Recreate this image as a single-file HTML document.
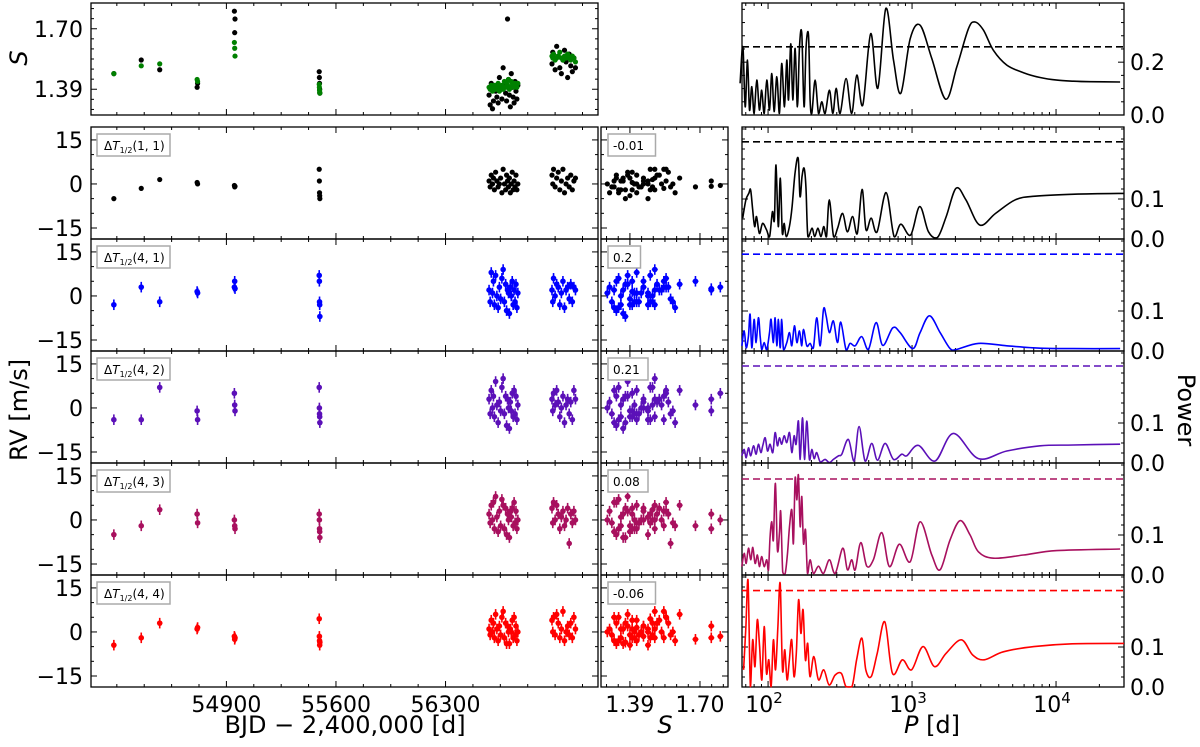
<!DOCTYPE html>
<html><head><meta charset="utf-8"><style>
html,body{margin:0;padding:0;background:#fff;}
svg{display:block;font-family:"DejaVu Sans","Liberation Sans",sans-serif;}
</style></head><body>
<svg id="fig" width="1200" height="747" viewBox="0 0 1200 747" xmlns="http://www.w3.org/2000/svg">
<text x="345" y="733" font-size="24" text-anchor="middle">BJD − 2,400,000 [d]</text>
<text x="665" y="733" font-size="24" text-anchor="middle" font-style="italic">S</text>
<text x="932" y="733" font-size="24" text-anchor="middle"><tspan font-style="italic">P</tspan> [d]</text>
<text transform="translate(27,410) rotate(-90)" font-size="24" text-anchor="middle">RV [m/s]</text>
<text transform="translate(27,58) rotate(-90)" font-size="24" text-anchor="middle" font-style="italic">S</text>
<text transform="translate(1178,410) rotate(90)" font-size="24" text-anchor="middle">Power</text>
</svg>
<script>
// ---------- data ----------
const bjd = [54181,54356,54474,54713,54716,54951,54953,54955,55493,55494,55495,55496,55497,
56578,56585,56592,56600,56606,56612,56620,56628,56636,56644,56652,56660,56668,56676,56684,56690,56696,56702,56708,56714,56720,56726,56732,56738,56744,56750,56756,56762,
56980,56985,56990,57000,57010,57020,57030,57040,57050,57060,57070,57080,57090,57100,57110,57120,57130];
const sIndex = [1.47,1.54,1.49,1.40,1.42,1.79,1.68,1.75,1.48,1.45,1.42,1.39,1.37,
1.36,1.31,1.42,1.29,1.33,1.40,1.38,1.35,1.32,1.45,1.39,1.34,1.50,1.41,1.37,1.33,1.75,1.44,1.36,1.30,1.47,1.40,1.35,1.32,1.43,1.38,1.34,1.41,
1.52,1.58,1.55,1.49,1.61,1.56,1.50,1.47,1.54,1.59,1.53,1.45,1.57,1.51,1.48,1.55,1.50];
const sIndexGreen = [1.47,1.51,1.52,1.44,1.43,1.63,1.60,1.56,1.415,1.40,1.385,1.375,1.37,
1.40,1.39,1.41,1.38,1.40,1.41,1.39,1.40,1.42,1.38,1.40,1.41,1.39,1.43,1.40,1.42,1.41,1.44,1.39,1.40,1.43,1.42,1.41,1.40,1.42,1.41,1.40,1.42,
1.56,1.55,1.57,1.54,1.55,1.56,1.58,1.55,1.54,1.56,1.55,1.57,1.55,1.54,1.56,1.55,1.53];
const rv11 = [-5,-1.5,1.5,0.5,0,-0.5,-1,-0.8,5,1,-3,-4,-5,
1,-1,3,0,2,-2,4,1,-1,0,2,-3,5,0,-2,3,1,-1,2,-3,0,4,-2,1,-1,3,-2,0,
3,0,5,-1,2,4,-2,1,5,-3,0,2,-1,3,-2,1,2];
const rv41 = [-3,3,-2,1.5,1,3,5,2.5,7,5,-2,-3,-7,
2,-2,8,1,5,-3,7,0,-4,3,-1,6,9,-2,4,-5,2,1,-6,3,0,5,-3,2,-2,4,-4,1,
2,-2,6,0,4,3,-3,1,5,-4,2,3,-1,4,-2,3,2];
const rv42 = [-4,-4,7,-1,-4,5,1,-1,7,0,-2,-3,-5,
3,-2,6,0,4,-3,9,1,-5,2,-1,7,10,-2,4,-6,3,0,-7,2,-1,5,-3,6,-2,4,-4,1,
3,-1,5,1,6,2,-3,0,4,-5,1,3,-2,2,-4,6,3];
const rv43 = [-5,-2,3.5,2,-1,0,-2,-3,2,0,-3,-4,-6,
2,-1,5,0,6,-3,8,1,-4,3,-2,7,5,-3,4,-5,2,0,-6,3,1,4,-2,6,-1,3,-3,0,
4,-1,6,0,5,2,-3,1,3,-2,0,4,-8,2,-1,3,0];
const rv44 = [-4.5,-2,3,1,1.5,-1.5,-2.5,-2,4.5,-1.5,-3,-4.5,-3.5,
1,-1,4,0,3,-2,6,1,-3,2,-1,5,7,-2,3,-4,2,0,-4,1,0,4,-2,5,-1,2,-3,0,
4,0,5,-1,6,3,-2,1,7,-3,0,2,-1,3,-2,5,1];
const rvErr = 1.8;
const corrValues = ["-0.01","0.2","0.21","0.08","-0.06"];
const rowLabels = ["1, 1","4, 1","4, 2","4, 3","4, 4"];
const fapLevels = [0.243,0.242,0.2425,0.240,0.241];
const fapTop = 0.258;

const logP_S = [1.806,1.825,1.841,1.857,1.871,1.887,1.903,1.922,1.940,1.956,1.973,1.991,2.010,2.026,2.042,2.061,2.079,2.095,2.114,2.130,2.142,2.158,2.172,2.188,2.204,2.218,2.234,2.250,2.264,2.281,2.292,2.304,2.327,2.350,2.373,2.396,2.426,2.450,2.473,2.500,2.542,2.581,2.616,2.658,2.713,2.762,2.818,2.871,2.922,2.987,3.056,3.137,3.234,3.311,3.392,3.438,3.496,3.565,3.658,3.774,3.889,4.005,4.121,4.237,4.445];
const pow_S = [.120,.258,.031,.208,.019,.107,.006,.132,.019,.094,.006,.132,.019,.157,.013,.145,.006,.195,.031,.208,.057,.270,.057,.252,.031,.258,.308,.031,.258,.302,.057,.006,.132,.006,.050,.006,.094,.006,.101,.006,.138,.006,.151,.038,.308,.101,.403,.208,.082,.289,.340,.214,.060,.182,.327,.352,.321,.245,.189,.160,.142,.132,.128,.126,.125];
const logP_11 = [1.824,1.846,1.866,1.879,1.893,1.907,1.920,1.940,1.962,1.989,2.011,2.030,2.044,2.055,2.071,2.085,2.099,2.112,2.126,2.148,2.167,2.187,2.209,2.222,2.236,2.250,2.263,2.277,2.305,2.324,2.346,2.368,2.387,2.406,2.425,2.455,2.483,2.518,2.551,2.587,2.620,2.653,2.680,2.716,2.757,2.820,2.875,2.922,2.990,3.053,3.114,3.177,3.237,3.306,3.374,3.470,3.580,3.717,3.854,4.129,4.471];
const pow_11 = [.052,.098,.114,.123,.073,.031,.056,.014,.039,.023,.006,.068,.048,.185,.031,.152,.014,.039,.006,.031,.081,.164,.202,.106,.156,.177,.131,.006,.027,.006,.027,.006,.031,.006,.098,.006,.027,.064,.018,.056,.014,.124,.023,.052,.018,.116,.006,.037,.010,.081,.018,.004,.056,.127,.098,.035,.064,.098,.107,.112,.114];
const logP_41 = [1.818,1.834,1.848,1.864,1.875,1.887,1.903,1.917,1.933,1.945,1.956,1.973,1.991,2.010,2.021,2.037,2.049,2.061,2.072,2.084,2.095,2.107,2.130,2.149,2.165,2.183,2.200,2.218,2.234,2.246,2.269,2.292,2.315,2.338,2.362,2.385,2.403,2.426,2.454,2.482,2.505,2.542,2.570,2.605,2.651,2.697,2.750,2.797,2.866,2.917,3.005,3.056,3.121,3.195,3.264,3.311,3.461,3.658,3.889,4.121,4.445];
const pow_41 = [.013,.050,.008,.038,.092,.008,.079,.021,.083,.038,.004,.021,.004,.046,.079,.021,.083,.013,.079,.008,.079,.004,.021,.046,.013,.063,.021,.050,.013,.054,.013,.019,.008,.083,.013,.104,.088,.046,.075,.021,.072,.003,.019,.013,.036,.004,.071,.014,.058,.046,.006,.046,.088,.046,.006,.004,.019,.013,.007,.006,.006];
const logP_42 = [1.818,1.834,1.848,1.864,1.880,1.899,1.917,1.933,1.950,1.963,1.980,1.996,2.014,2.033,2.049,2.065,2.079,2.095,2.112,2.130,2.149,2.165,2.181,2.195,2.211,2.223,2.239,2.253,2.269,2.287,2.304,2.320,2.338,2.362,2.396,2.426,2.454,2.489,2.512,2.558,2.598,2.632,2.674,2.720,2.760,2.813,2.871,2.929,2.963,3.044,3.160,3.287,3.461,3.658,3.889,4.121,4.445];
const pow_42 = [.018,.034,.013,.038,.018,.043,.022,.047,.026,.043,.063,.030,.047,.026,.076,.043,.063,.047,.068,.051,.076,.026,.068,.047,.105,.009,.113,.009,.105,.009,.034,.011,.026,.003,.009,.001,.009,.018,.022,.059,.005,.091,.005,.049,.007,.049,.009,.022,.018,.044,.005,.074,.011,.030,.043,.045,.047];
const logP_43 = [1.818,1.834,1.848,1.864,1.880,1.894,1.910,1.926,1.940,1.956,1.973,1.991,2.003,2.014,2.026,2.037,2.051,2.065,2.079,2.088,2.102,2.119,2.135,2.149,2.165,2.176,2.188,2.200,2.211,2.223,2.234,2.246,2.260,2.274,2.292,2.315,2.350,2.385,2.426,2.466,2.519,2.551,2.581,2.605,2.644,2.686,2.732,2.790,2.843,2.912,2.987,3.056,3.137,3.195,3.264,3.334,3.403,3.461,3.565,3.774,4.005,4.445];
const pow_43 = [.021,.054,.029,.067,.038,.069,.029,.050,.021,.046,.021,.038,.013,.096,.133,.088,.229,.063,.104,.158,.008,.004,.054,.121,.163,.079,.242,.188,.250,.121,.196,.079,.113,.004,.038,.004,.022,.004,.038,.004,.067,.013,.038,.013,.081,.022,.039,.106,.021,.077,.033,.133,.050,.013,.088,.136,.100,.058,.042,.050,.061,.065];
const logP_44 = [1.830,1.846,1.861,1.877,1.893,1.909,1.925,1.941,1.957,1.973,1.989,2.005,2.021,2.037,2.052,2.068,2.084,2.100,2.116,2.132,2.148,2.164,2.180,2.196,2.212,2.228,2.243,2.259,2.275,2.291,2.318,2.350,2.387,2.424,2.466,2.509,2.541,2.583,2.615,2.652,2.679,2.716,2.758,2.811,2.864,2.933,2.997,3.076,3.156,3.236,3.342,3.421,3.501,3.634,3.846,4.111,4.472];
const pow_44 = [.043,.151,.268,.001,.118,.051,.168,.101,.018,.151,.034,.068,.001,.118,.043,.151,.259,.043,.093,.018,.068,.118,.026,.084,.218,.134,.193,.068,.109,.026,.076,.018,.043,.005,.030,.034,.001,.001,.068,.122,.043,.026,.084,.163,.034,.068,.043,.101,.051,.084,.118,.080,.068,.088,.101,.108,.109];

// ---------- layout & scales ----------
const svg = document.getElementById('fig');
const NS = 'http://www.w3.org/2000/svg';
const LX0=91, LX1=598, MX0=601, MX1=728, RX0=742, RX1=1124;
const TOP0=3, TOP1=115, ROWH=112;
const rowTops=[127,239,351,463,575];
const T_MIN=54035, T_MAX=57274, S_MIN=1.262, S_MAX=1.824, LP_MIN=1.819, LP_MAX=4.472;
const tx = t => LX0 + (t-T_MIN)/(T_MAX-T_MIN)*(LX1-LX0);
const sx = s => MX0 + (s-S_MIN)/(S_MAX-S_MIN)*(MX1-MX0);
const lx = lp => RX0 + (lp-LP_MIN)/(LP_MAX-LP_MIN)*(RX1-RX0);
const ysTop = s => TOP0 + (1.832-s)/(1.832-1.258)*(TOP1-TOP0);
const ypTop = p => TOP1 - p/0.424*(TOP1-TOP0);
const yrv = (v,T) => T + (19.4-v)/38.15*ROWH;
const ypow = (p,T) => T + ROWH - p/0.28*ROWH;

function mk(tag, attrs, name, parent){
  const el = document.createElementNS(NS, tag);
  for (const k in attrs) el.setAttribute(k, attrs[k]);
  
  
  (parent||svg).appendChild(el);
  return el;
}
function txt(x,y,s,size,anchor,name){
  const el = mk('text',{x:x,y:y,'font-size':size,'text-anchor':anchor||'middle'},name);
  el.textContent = s;
  return el;
}
function frame(x0,y0,x1,y1,name){
  mk('rect',{x:x0,y:y0,width:x1-x0,height:y1-y0,fill:'none',stroke:'#000','stroke-width':1.3},name);
}
function tickX(x,y0,y1,len,name){
  mk('line',{x1:x,y1:y1,x2:x,y2:y1-len,stroke:'#000','stroke-width':1},name);
  mk('line',{x1:x,y1:y0,x2:x,y2:y0+len,stroke:'#000','stroke-width':1},name);
}
function tickY(y,x0,x1,len,name){
  mk('line',{x1:x0,y1:y,x2:x0+len,y2:y,stroke:'#000','stroke-width':1},name);
  mk('line',{x1:x1,y1:y,x2:x1-len,y2:y,stroke:'#000','stroke-width':1},name);
}
function dot(x,y,r,c,name){ mk('circle',{cx:x,cy:y,r:r,fill:c},name); }
// Catmull-Rom smoothing (clamped in y to the panel)
function smoothPath(pts, yMin, yMax){
  let d='M'+pts[0][0].toFixed(1)+','+pts[0][1].toFixed(1);
  for(let i=0;i<pts.length-1;i++){
    const p0=pts[Math.max(0,i-1)], p1=pts[i], p2=pts[i+1], p3=pts[Math.min(pts.length-1,i+2)];
    const c1x=p1[0]+(p2[0]-p0[0])/6, c1y=Math.min(yMax,Math.max(yMin,p1[1]+(p2[1]-p0[1])/6));
    const c2x=p2[0]-(p3[0]-p1[0])/6, c2y=Math.min(yMax,Math.max(yMin,p2[1]-(p3[1]-p1[1])/6));
    d+='C'+c1x.toFixed(1)+','+c1y.toFixed(1)+' '+c2x.toFixed(1)+','+c2y.toFixed(1)+' '+p2[0].toFixed(1)+','+p2[1].toFixed(1);
  }
  return d;
}

const rowColors=['#000000','#0000ff','#5b10b8','#a8105e','#ff0000'];
const rvRows=[rv11,rv41,rv42,rv43,rv44];
const powRows=[[logP_11,pow_11],[logP_41,pow_41],[logP_42,pow_42],[logP_43,pow_43],[logP_44,pow_44]];

const timeMajor=[54900,55600,56300];
const timeMinor=[]; for(let t=54200;t<57274;t+=175) timeMinor.push(t);
const sMajor=[1.39,1.70];
const sMinor=[1.2865,1.3383,1.4417,1.4933,1.545,1.5967,1.6483,1.7517,1.8033];
const decades=[2,3,4];
const logMinor=[]; for(let d=1;d<=4;d++) for(let m=2;m<=9;m++){const v=d+Math.log10(m); if(v>LP_MIN&&v<LP_MAX) logMinor.push(v);}

function xTicksAll(y0,y1){
  timeMajor.forEach(t=>tickX(tx(t),y0,y1,6,'x-tick-time'));
  timeMinor.forEach(t=>{ if(!timeMajor.includes(t)) tickX(tx(t),y0,y1,3,'x-minor-tick-time'); });
}
function midTicks(y0,y1){
  sMajor.forEach(s=>tickX(sx(s),y0,y1,6,'x-tick-s'));
  sMinor.forEach(s=>tickX(sx(s),y0,y1,3,'x-minor-tick-s'));
}
function rightTicks(y0,y1){
  decades.forEach(d=>tickX(lx(d),y0,y1,6,'x-tick-period'));
  logMinor.forEach(v=>tickX(lx(v),y0,y1,3,'x-minor-tick-period'));
}

// ---------- TOP ROW ----------
frame(LX0,TOP0,LX1,TOP1,'s-index-time-panel');
frame(RX0,TOP0,RX1,TOP1,'s-index-periodogram-panel');
xTicksAll(TOP0,TOP1);
[1.39,1.70].forEach(s=>{ tickY(ysTop(s),LX0,LX1,6,'y-tick-s'); txt(LX0-8,ysTop(s)+8,s.toFixed(2),22,'end','y-tick-label-s'); });
[1.2865,1.3383,1.4417,1.4933,1.545,1.5967,1.6483,1.7517,1.8033].forEach(s=>tickY(ysTop(s),LX0,LX1,3,'y-minor-tick-s'));
rightTicks(TOP0,TOP1);
[0,0.2].forEach(p=>{ tickY(ypTop(p),RX0,RX1,6,'y-tick-power'); txt(RX1+6,ypTop(p)+8,p.toFixed(1),22,'start','y-tick-label-power'); });
[0.05,0.1,0.15,0.25,0.3,0.35,0.4].forEach(p=>tickY(ypTop(p),RX0,RX1,3,'y-minor-tick-power'));
bjd.forEach((t,i)=>{ dot(tx(t),ysTop(sIndex[i]),2.6,'#000','s-index-point'); });
bjd.forEach((t,i)=>{ dot(tx(t),ysTop(sIndexGreen[i]),2.6,'#008000','s-index-alt-point'); });
mk('line',{x1:RX0,y1:ypTop(fapTop),x2:RX1,y2:ypTop(fapTop),stroke:'#000','stroke-width':1.6,'stroke-dasharray':'7,4'},'fap-line-s');
mk('path',{d:smoothPath(logP_S.map((lp,i)=>[lx(lp),ypTop(pow_S[i])]),TOP0,TOP1),fill:'none',stroke:'#000','stroke-width':1.6},'periodogram-s');

// ---------- RV ROWS ----------
rowTops.forEach((T,r)=>{
  const B=T+ROWH, c=rowColors[r], rv=rvRows[r];
  frame(LX0,T,LX1,B,'rv-time-panel-'+(r+1));
  frame(MX0,T,MX1,B,'rv-s-panel-'+(r+1));
  frame(RX0,T,RX1,B,'rv-periodogram-panel-'+(r+1));
  xTicksAll(T,B); midTicks(T,B); rightTicks(T,B);
  [-15,0,15].forEach(v=>{
    tickY(yrv(v,T),LX0,LX1,6,'y-tick-rv');
    tickY(yrv(v,T),MX0,MX1,6,'y-tick-rv-mid');
    txt(LX0-8,yrv(v,T)+8,v===-15?'−15':String(v),22,'end','y-tick-label-rv');
  });
  [-10,-5,5,10].forEach(v=>{ tickY(yrv(v,T),LX0,LX1,3,'y-minor-tick-rv'); tickY(yrv(v,T),MX0,MX1,3,'y-minor-tick-rv-mid'); });
  [0,0.1].forEach(p=>{ tickY(ypow(p,T),RX0,RX1,6,'y-tick-power'); txt(RX1+6,ypow(p,T)+8,p.toFixed(1),22,'start','y-tick-label-power'); });
  [0.025,0.05,0.075,0.125,0.15,0.175,0.2,0.225,0.25,0.275].forEach(p=>tickY(ypow(p,T),RX0,RX1,3,'y-minor-tick-power'));
  bjd.forEach((t,i)=>{
    const x=tx(t), y=yrv(rv[i],T);
    if(r>0) mk('line',{x1:x,y1:yrv(rv[i]+rvErr,T),x2:x,y2:yrv(rv[i]-rvErr,T),stroke:c,'stroke-width':1.6},'rv-error-bar');
    dot(x,y,r>0?2.8:2.6,c,'rv-point');
    const xs=sx(sIndex[i]);
    if(r>0){
      mk('line',{x1:xs,y1:yrv(rv[i]+rvErr,T),x2:xs,y2:yrv(rv[i]-rvErr,T),stroke:c,'stroke-width':1.6},'rv-s-error-bar');
      mk('line',{x1:xs-3,y1:y,x2:xs+3,y2:y,stroke:c,'stroke-width':1.4},'rv-s-error-bar-x');
    }
    dot(xs,y,r>0?2.8:2.6,c,'rv-s-point');
  });
  mk('rect',{x:97,y:T+7,width:73,height:22,fill:'#fff',stroke:'#aaa','stroke-width':1.5},'row-label-box');
  const lb=mk('text',{x:104,y:T+23,'font-size':12},'row-label');
  lb.innerHTML='Δ<tspan font-style="italic">T</tspan><tspan font-size="8" dy="3">1/2</tspan><tspan dy="-3">('+rowLabels[r]+')</tspan>';
  const cw = corrValues[r].length*7.5+10;
  mk('rect',{x:608,y:T+7,width:cw,height:22,fill:'#fff',stroke:'#aaa','stroke-width':1.5},'correlation-box');
  txt(613,T+23,corrValues[r],12,'start','correlation-value');
  mk('line',{x1:RX0,y1:ypow(fapLevels[r],T),x2:RX1,y2:ypow(fapLevels[r],T),stroke:c,'stroke-width':1.6,'stroke-dasharray':'7,4'},'fap-line');
  const lp=powRows[r][0], pw=powRows[r][1];
  mk('path',{d:smoothPath(lp.map((v,i)=>[lx(v),ypow(pw[i],T)]),T,B),fill:'none',stroke:c,'stroke-width':1.6},'periodogram-'+(r+1));
});

timeMajor.forEach(t=>txt(tx(t),712,String(t),22,'middle','x-tick-label-time'));
sMajor.forEach(s=>txt(sx(s),712,s.toFixed(2),22,'middle','x-tick-label-s'));
decades.forEach(d=>{
  const el=mk('text',{x:lx(d)-4,y:712,'font-size':22,'text-anchor':'middle'},'x-tick-label-period');
  el.innerHTML='10<tspan font-size="15" dy="-9">'+d+'</tspan>';
});
</script>
</body></html>
